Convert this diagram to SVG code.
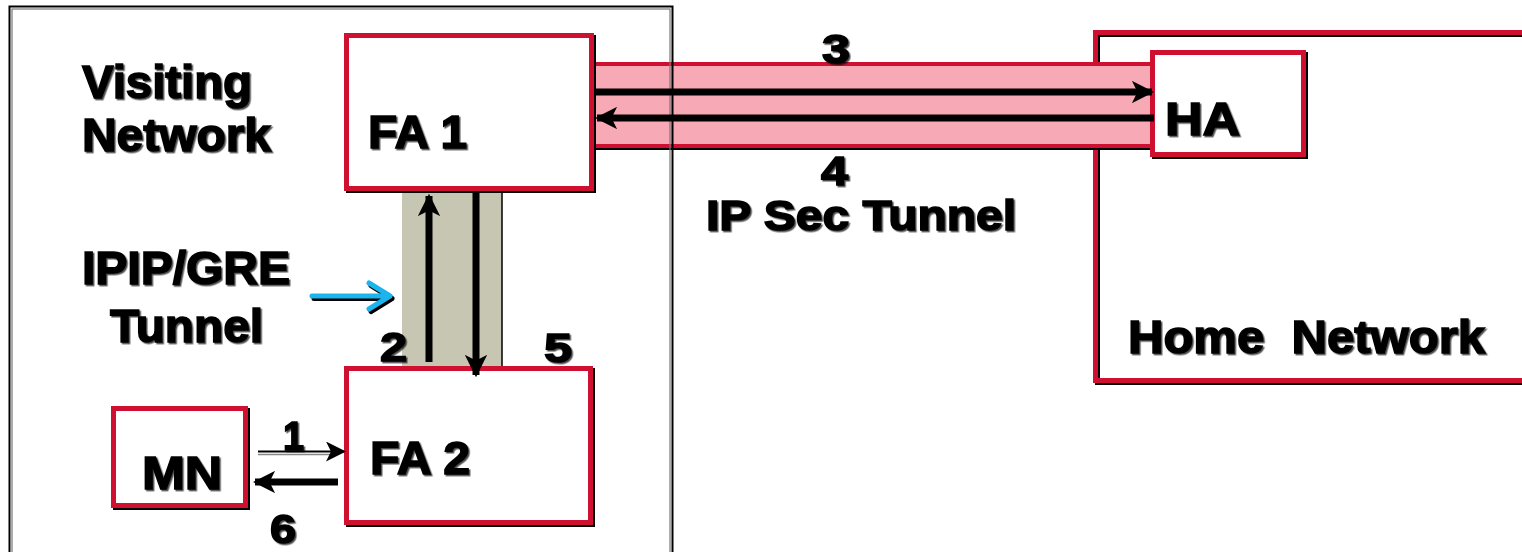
<svg xmlns="http://www.w3.org/2000/svg" width="1522" height="552" viewBox="0 0 1522 552">
<style>
  .t { font-family: "Liberation Sans", Arial, sans-serif; font-weight: bold; fill: #000; stroke: #000; stroke-width: 1.5; filter: url(#sh); white-space: pre; }
  .big { font-size: 47px; }
  .mid { font-size: 42px; }
  .num { font-size: 40px; }
  .box { fill: #fff; stroke: #d01030; stroke-width: 5; }
  .boxn { fill: none; stroke: #d01030; stroke-width: 5; }
  .shadow { fill: none; stroke: #000; stroke-width: 5; }
  .arr { stroke: #000; stroke-width: 7; fill: none; }
</style>
<defs>
  <filter id="sh" x="-10%" y="-10%" width="130%" height="130%">
    <feDropShadow dx="1.5" dy="1.5" stdDeviation="0.4" flood-color="#000" flood-opacity="0.7"/>
  </filter>
  <marker id="ah" viewBox="0 0 10 10" refX="9" refY="5" markerWidth="3.2" markerHeight="3.2" orient="auto" markerUnits="strokeWidth">
    <path d="M0,0 L10,5 L0,10 L2.5,5 z" fill="#000"/>
  </marker>
  <marker id="ahs" viewBox="0 0 10 10" refX="9" refY="5" markerWidth="10" markerHeight="10" orient="auto" markerUnits="strokeWidth">
    <path d="M0,0 L10,5 L0,10 L2.5,5 z" fill="#000"/>
  </marker>
</defs>
<rect width="1522" height="552" fill="#fff"/>

<!-- Home network region -->
<g id="home-network">
  <rect x="1097.5" y="34.5" width="440" height="348" class="shadow"/>
  <rect x="1095.5" y="32.5" width="440" height="348" class="boxn"/>
  <text class="t big" x="1128" y="353" textLength="357" lengthAdjust="spacingAndGlyphs">Home  Network</text>
</g>

<!-- IP Sec tunnel band -->
<g id="ipsec-tunnel">
  <rect x="590" y="66" width="565" height="82" fill="none" stroke="#000" stroke-width="4"/>
  <rect x="590" y="64" width="565" height="82" fill="#f7a9b5" stroke="#d01030" stroke-width="4"/>
  <text class="t mid" x="706" y="230" textLength="310" lengthAdjust="spacingAndGlyphs">IP Sec Tunnel</text>
</g>

<!-- IPIP/GRE tunnel band -->
<g id="ipip-tunnel">
  <rect x="402" y="192" width="100" height="176" fill="#c6c6b2"/>
  <line x1="502" y1="192" x2="502" y2="368" stroke="#000" stroke-width="1.5"/>
  <text class="t big" x="82" y="284" textLength="208" lengthAdjust="spacingAndGlyphs">IPIP/GRE</text>
  <text class="t big" x="110" y="342" textLength="153" lengthAdjust="spacingAndGlyphs">Tunnel</text>
</g>

<!-- Visiting network region -->
<g id="visiting-network">
  <rect x="9.5" y="6.5" width="663" height="560" fill="none" stroke="#000" stroke-width="2"/>
  <rect x="12" y="9" width="658" height="560" fill="none" stroke="#777" stroke-width="1.2"/>
  <text class="t big" x="82" y="98" textLength="170" lengthAdjust="spacingAndGlyphs">Visiting</text>
  <text class="t big" x="82" y="151" textLength="189" lengthAdjust="spacingAndGlyphs">Network</text>
</g>

<g id="fa1">
  <rect x="348.5" y="37.5" width="245" height="153" class="shadow"/>
  <rect x="346.5" y="35.5" width="245" height="153" class="box"/>
  <text class="t big" x="368" y="148" textLength="99" lengthAdjust="spacingAndGlyphs">FA 1</text>
</g>

<g id="ha">
  <rect x="1154.5" y="54.5" width="151" height="102" class="shadow"/>
  <rect x="1152.5" y="52.5" width="151" height="102" class="box"/>
  <text class="t big" x="1165" y="135" textLength="75" lengthAdjust="spacingAndGlyphs">HA</text>
</g>

<g id="fa2">
  <rect x="348.5" y="370.5" width="244" height="154" class="shadow"/>
  <rect x="346.5" y="368.5" width="244" height="154" class="box"/>
  <text class="t big" x="370" y="474" textLength="100" lengthAdjust="spacingAndGlyphs">FA 2</text>
</g>

<g id="mn">
  <rect x="115.5" y="410.5" width="132" height="97" class="shadow"/>
  <rect x="113.5" y="408.5" width="132" height="97" class="box"/>
  <text class="t big" x="142" y="489" textLength="80" lengthAdjust="spacingAndGlyphs">MN</text>
</g>

<g id="connectors">
  <!-- 3: FA1 -> HA -->
  <line x1="594" y1="92" x2="1152" y2="92" class="arr" marker-end="url(#ah)"/>
  <!-- 4: HA -> FA1 -->
  <line x1="1154" y1="118" x2="597" y2="118" class="arr" marker-end="url(#ah)"/>
  <!-- 2: FA2 -> FA1 -->
  <line x1="429" y1="362" x2="429" y2="196" class="arr" marker-end="url(#ah)"/>
  <!-- 5: FA1 -> FA2 -->
  <line x1="476" y1="192" x2="476" y2="375" class="arr" marker-end="url(#ah)"/>
  <!-- 1: MN -> FA2 -->
  <line x1="258" y1="454.5" x2="336" y2="454.5" stroke="#888" stroke-width="1.4"/>
  <line x1="258" y1="451.5" x2="344" y2="451.5" stroke="#000" stroke-width="2" marker-end="url(#ahs)"/>
  <!-- 6: FA2 -> MN -->
  <line x1="338" y1="482" x2="255" y2="482" class="arr" marker-end="url(#ah)"/>
  <!-- blue pointer -->
  <g fill="none" stroke-linecap="round" stroke-linejoin="round">
    <path d="M314,298.5 L392,298.5 M371,285.5 L392,298.5 L371,311.5" stroke="#000" stroke-width="5"/>
    <path d="M312,296 L390,296 M369,283 L390,296 L369,309" stroke="#1cb4ec" stroke-width="5"/>
  </g>
  <text class="t num" x="822" y="63" textLength="28" lengthAdjust="spacingAndGlyphs">3</text>
  <text class="t num" x="821" y="185" textLength="27" lengthAdjust="spacingAndGlyphs">4</text>
  <text class="t num" x="380" y="361" textLength="27" lengthAdjust="spacingAndGlyphs">2</text>
  <text class="t num" x="544" y="362" textLength="28" lengthAdjust="spacingAndGlyphs">5</text>
  <text class="t num" x="283" y="450" textLength="21" lengthAdjust="spacingAndGlyphs">1</text>
  <text class="t num" x="270" y="543" textLength="26" lengthAdjust="spacingAndGlyphs">6</text>
</g>
</svg>
